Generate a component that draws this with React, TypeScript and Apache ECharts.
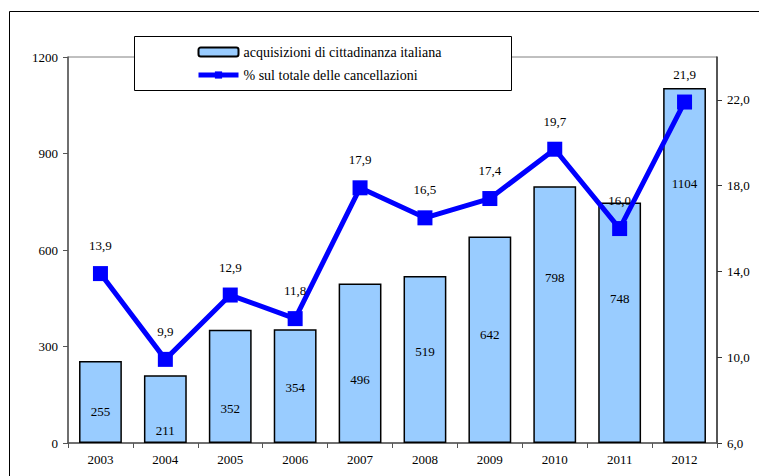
import React, { useEffect, useRef } from "react";
import * as echarts from "echarts";

const years = ["2003", "2004", "2005", "2006", "2007", "2008", "2009", "2010", "2011", "2012"];
const acquisizioni = [255, 211, 352, 354, 496, 519, 642, 798, 748, 1104];
const percentuale = [13.9, 9.9, 12.9, 11.8, 17.9, 16.5, 17.4, 19.7, 16.0, 21.9];
const leftTicks = [0, 300, 600, 900, 1200];
const rightTicks = [6, 10, 14, 18, 22];

// label vertical offsets (styling) relative to bar centre
const barLabelShift = [10, 21, 22, 1, 16, -8, -5, -37, -24, -82];

const FONT = "Liberation Serif";

export default function App() {
  const ref = useRef<HTMLDivElement>(null);
  useEffect(() => {
    const chart = echarts.init(ref.current!, null, { renderer: "svg" });
    chart.setOption({
      animation: false,
      backgroundColor: "#ffffff",
      textStyle: { fontFamily: FONT, color: "#000" },
      grid: {
        left: 68,
        right: 42,
        top: 57,
        bottom: 33,
        show: true,
        borderColor: "#808080",
        borderWidth: 1,
        containLabel: false,
      },
      legend: {
        orient: "vertical",
        left: 196,
        top: 45,
        padding: 0,
        itemWidth: 40,
        itemHeight: 9,
        itemGap: 9,
        lineStyle: { width: 5 },
        textStyle: { fontFamily: FONT, fontSize: 14, color: "#000" },
        data: [
          { name: "acquisizioni di cittadinanza italiana" },
          { name: "% sul totale delle cancellazioni" },
        ],
        z: 20,
      },
      graphic: [
        {
          type: "rect",
          left: 7,
          top: 9,
          shape: { width: 800, height: 500 },
          style: { fill: "none", stroke: "#000", lineWidth: 1 },
          silent: true,
          z: -10,
        },
        {
          type: "rect",
          left: 134,
          top: 36,
          shape: { width: 377, height: 54 },
          style: { fill: "#fff", stroke: "#000", lineWidth: 1 },
          silent: true,
          z: 10,
        },
      ],
      xAxis: {
        type: "category",
        data: years,
        axisLine: { lineStyle: { color: "#555", width: 1.5 } },
        axisTick: { show: true, length: 5, lineStyle: { color: "#555" } },
        axisLabel: { fontFamily: FONT, fontSize: 13, color: "#000", margin: 10 },
      },
      yAxis: [
        {
          type: "value",
          min: 0,
          max: 1200,
          interval: 300,
          splitLine: { show: false },
          axisLine: { show: true, lineStyle: { color: "#555", width: 1.5 } },
          axisTick: { show: true, length: 5, lineStyle: { color: "#555" } },
          axisLabel: {
            fontFamily: FONT,
            fontSize: 13,
            color: "#000",
            margin: 10,
            customValues: leftTicks,
            formatter: (v: number) => String(v),
          },
        },
        {
          type: "value",
          min: 6,
          max: 24,
          interval: 2,
          position: "right",
          splitLine: { show: false },
          axisLine: { show: true, lineStyle: { color: "#333", width: 1.5 } },
          axisTick: { show: true, length: 5, lineStyle: { color: "#333" }, customValues: rightTicks },
          axisLabel: {
            fontFamily: FONT,
            fontSize: 13,
            color: "#000",
            margin: 10,
            customValues: rightTicks,
            formatter: (v: number) => v.toFixed(1).replace(".", ","),
          },
        },
      ],
      series: [
        {
          name: "acquisizioni di cittadinanza italiana",
          type: "bar",
          yAxisIndex: 0,
          barWidth: "66%",
          itemStyle: { color: "#99CCFF", borderColor: "#000", borderWidth: 1.5 },
          data: acquisizioni.map((v, i) => ({
            value: v,
            label: { offset: [0, barLabelShift[i]] },
          })),
          label: {
            show: true,
            position: "inside",
            fontFamily: FONT,
            fontSize: 13,
            color: "#000",
          },
          z: 2,
        },
        {
          name: "% sul totale delle cancellazioni",
          type: "line",
          yAxisIndex: 1,
          data: percentuale,
          symbol: "rect",
          symbolSize: 15,
          lineStyle: { color: "#0000FF", width: 5 },
          itemStyle: { color: "#0000FF" },
          label: {
            show: true,
            position: "top",
            distance: 14,
            fontFamily: FONT,
            fontSize: 13,
            color: "#000",
            formatter: (p: any) => Number(p.value).toFixed(1).replace(".", ","),
          },
          z: 5,
        },
      ],
    });
    return () => chart.dispose();
  }, []);
  return (
    <div
      ref={ref}
      style={{ position: "fixed", left: 0, top: 0, width: 759, height: 476 }}
    />
  );
}
